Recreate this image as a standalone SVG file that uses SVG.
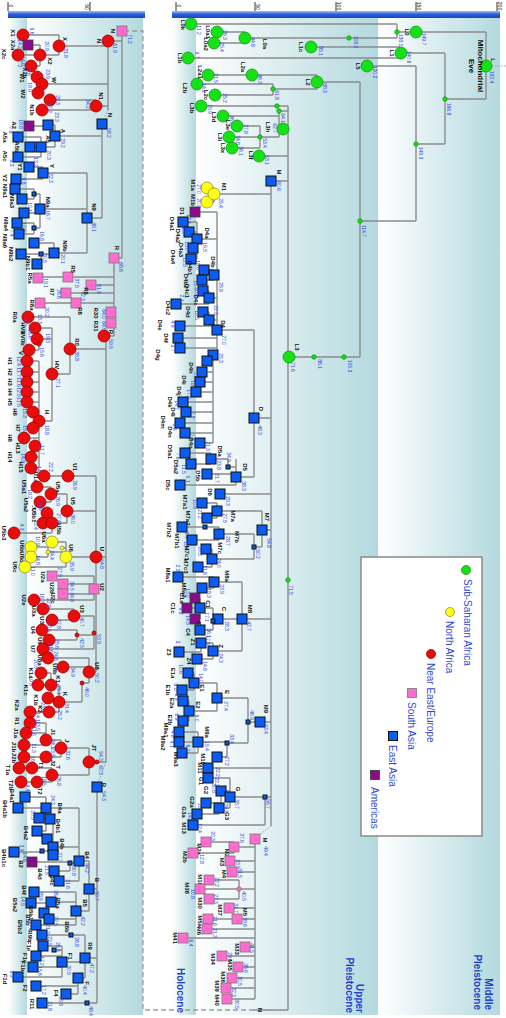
<svg xmlns="http://www.w3.org/2000/svg" width="506" height="1018" viewBox="0 0 506 1018">
<defs>
<linearGradient id="bg" x1="0" y1="0" x2="1" y2="0"><stop offset="0" stop-color="#ffffff"/><stop offset="1" stop-color="#b3d9de"/></linearGradient>
<linearGradient id="ax" x1="0" y1="0" x2="0" y2="1"><stop offset="0" stop-color="#a3c1f5"/><stop offset=".45" stop-color="#2b5fdc"/><stop offset="1" stop-color="#1a47b8"/></linearGradient>
<rect id="s" x="-5" y="-5" width="10" height="10"/>
<rect id="t" x="-2" y="-2" width="4" height="4"/>
</defs>
<style>
.e{fill:none;stroke:#8c8c8c;stroke-width:1.4}
.d{fill:none;stroke:#9a9a9a;stroke-width:1.3;stroke-dasharray:5 3}
.o{fill:none;stroke:#9a9a9a;stroke-width:1;stroke-dasharray:1.5 1.5}
.G{fill:#16e016;stroke:#0f9a0f;stroke-width:.8}
.Y{fill:#ffff14;stroke:#8f8f2a;stroke-width:.8}
.R{fill:#ea0b0b;stroke:#9e0000;stroke-width:.8}
.P{fill:#ff6ccd;stroke:#7a7a7a;stroke-width:.8}
.B{fill:#0b5cf2;stroke:#101010;stroke-width:1}
.U{fill:#8a0a8c;stroke:#3a3a3a;stroke-width:.8}
text{font-family:"Liberation Sans",Arial,sans-serif;dominant-baseline:central;text-anchor:middle}
.l{font-size:6px;font-weight:bold;fill:#111}
.v{font-size:5px;fill:#2e44e0}
.k{font-size:5px;fill:#000}
.g{font-size:10px;fill:#3048d0;text-anchor:start}
.h{font-size:10px;font-weight:bold;fill:#2040d0;text-anchor:end}
.m{font-size:8px;font-weight:bold;fill:#111}
</style>
<rect width="506" height="1018" fill="#fff"/>
<g id="bands">
<rect x="8" y="18" width="19" height="997" fill="url(#bg)"/>
<rect x="27" y="18" width="116" height="997" fill="url(#bg)"/>
<rect x="172" y="18" width="24" height="997" fill="url(#bg)"/>
<rect x="196" y="18" width="182" height="997" fill="url(#bg)"/>
<rect x="378" y="18" width="122" height="997" fill="url(#bg)"/>
</g>
<g id="axis">
<rect x="8" y="11" width="137" height="7" fill="url(#ax)"/>
<rect x="172" y="11" width="328" height="7" fill="url(#ax)"/>
<path d="M8,2V11M90,2V11M176,2V11M255,2V11M336,2V11M416,2V11M497,2V11" stroke="#000" stroke-width=".8"/>
<text class="k" transform="translate(11,6)rotate(90)">0</text>
<text class="k" transform="translate(87,7)rotate(90)">50</text>
<text class="k" transform="translate(179,6)rotate(90)">0</text>
<text class="k" transform="translate(258,7)rotate(90)">50</text>
<text class="k" transform="translate(339,6)rotate(90)">100</text>
<text class="k" transform="translate(419,6)rotate(90)">150</text>
<text class="k" transform="translate(500,6)rotate(90)">200</text>
</g>
<g id="eras">
<text class="h" transform="translate(180,1013)rotate(90)">Holocene</text>
<text class="h" transform="translate(359,1013)rotate(90)">Upper</text>
<text class="h" transform="translate(349,1013)rotate(90)">Pleistocene</text>
<text class="h" transform="translate(488,1010)rotate(90)">Middle</text>
<text class="h" transform="translate(477,1010)rotate(90)">Pleistocene</text>
</g>
<g id="connectors">
<path class="d" d="M124,31H143V1010H253"/>
<path class="e" d="M253,1010H288"/>
<path class="o" d="M108,110L103,120M106,762L98,783M271,826L258,836M492,66H506"/>
<path class="e" d="M122,31V258M108,41H122M114,258H122M108,41V110M59,46H108M42,84H108M96,106H108M59,35V55M23,35H59M40,55H59M40,45V66M28,45H40M18,55H40M31,66H40M42,77V93M37,77H42M38,93H42M96,100V110M50,100H96M42,110H96M102,124V218M55,136H102M87,218H102M55,125V147M48,125H55M41,147H55M29,126H48M41,137V157M18,137H41M30,147H41M18,157H41M87,173V253M43,173H87M40,209H87M54,253H87M43,167V179M29,167H43M16,179H43M40,194V228M34,189V199M15,189H34M22,199H34M34,194H40M24,213H40M34,223V234M17,223H34M19,234H34M34,228H40M54,243V254M34,243H54M21,254H54M41,254V264M37,264H41"/>
<path class="e" d="M114,258V336M68,277H114M38,277H68M91,285H114M66,293H114M76,303H114M40,303H76M111,312H114M111,323H114M104,336H114M106,336V762M70,349H106M96,557H106M89,762H106M70,317V374M28,317H70M52,374H70M52,328V421M35,328H52M37,339H52M39,421H52M39,339V350M29,350H39M39,361V468M27,361H39M27,372H39M27,382H39M27,392H39M27,402H39M33,412H39M33,428H39M24,438H39M35,446H39M31,457H39M31,468H39"/>
<path class="e" d="M96,476V672M68,476H96M67,511H96M66,557H96M89,672H96M94,589H96M94,633H96M44,476H68M67,494V523M51,494H67M52,523H67M51,487V502M37,487H51M40,502H51M52,513V533M47,513H52M43,523H52M14,533H52M66,542V567M52,542H66M62,548H66M48,552H66M25,567H66M48,547V557M31,547H48M31,557H48M94,576V600M52,576H94M63,584H94M63,594H94M34,600H94M94,616V649M74,616H94M77,635H94M43,649H94M74,609V620M43,609H74M52,620H74M77,630V640M42,630H77M49,640H77M89,658V683M48,658H89M63,667H89M82,683H89M82,683V702M59,702H82M59,685V712M51,685H59M49,712H59M51,673V698M41,673H51M38,685H51M48,698H51M30,712H49M89,748V775M61,748H89M52,775H89M61,740V757M46,740H61M46,757H61M46,723V745M30,723H46M26,733H46M24,745H46M24,757H46M52,768V782M32,768H52M37,782H52M19,768H32M21,782H37"/>
<path class="e" d="M97,787V1003M89,889H97M85,958H97M87,1003H97M89,861V911M79,861H89M76,911H89M79,808V881M46,808H79M53,847H79M70,863H79M59,881H79M46,797V831M25,797H46M18,808H46M39,818H46M37,831H46M53,819V855M50,819H53M47,839H53M42,851H53M14,852H42M70,863V871M32,862H70M54,871H70M76,892V925M34,892H76M51,902H76M49,919H76M36,925H76M31,903H51M49,913V919M44,913H49M85,935V978M71,935H85M62,962H85M78,978H85M42,935H71M62,946V977M43,946H62M54,950H62M36,956H62M33,967H62M18,977H62M78,978V994M36,986H78M66,994H78M42,1003H87"/>
<path class="e" d="M486,32V99M416,32H486M445,99H486M445,53V144M400,53H445M416,144H445M400,47V58M311,47H400M188,58H400M416,66V221M367,66H416M360,221H416M360,82V357M317,82H360M289,357H360M397,24V38M191,24H397M245,38H397M397,32H416M245,32V43M217,32H245M214,43H245M317,75V89M252,75H317M273,89H317M208,75H252M273,84V95M197,84H273M215,95H273M288,106V1010M201,106H288M279,111H288M283,129H288M259,156H288M271,181H288M279,111V137M223,116H279M260,137H279M260,126V148M237,126H260M229,137H260M232,148H260"/>
<path class="e" d="M271,181V826M215,194H271M254,418H271M220,494H271M262,530H271M242,619H271M260,722H271M208,768H271M265,797H271M214,188V202M207,188H214M207,202H214M217,212V355M195,212H217M197,239H217M214,275H217M209,298H217M209,320H217M180,326H217M178,338H217M180,348H217M213,355H217M213,355V443M207,361H213M202,372H213M200,382H213M196,392H213M183,402H213M186,412H213M180,423H213M185,433H213M200,443H213M197,222V259M183,222H197M189,232H197M193,248H197M191,259H197M214,270V280M204,270H214M202,280H214M209,291V304M203,291H209M176,304H209M209,312V320M203,312H209M254,330V477M217,330H254M236,477H254M236,459V485M228,467H236M207,474H236M180,485H236M228,459V467M211,459H228M211,453V464M185,453H211M191,464H211"/>
<path class="e" d="M262,511V547M217,511H262M254,547H262M254,534V559M219,534H254M212,559H254M217,503V518M202,503H217M207,518H217M219,527V540M205,527H219M192,540H219M182,527H205M212,549V567M206,549H212M198,567H212M242,582V651M214,582H242M218,619H242M213,651H242M214,577V588M178,577H214M202,588H214M213,608V630M213,621H218M200,608H213M200,630H213M200,598V619M195,598H200M187,608H200M195,619H200M213,643V659M201,643H213M197,659H213M201,643V652M179,652H201M248,698V743M217,698H248M227,743H248M248,722H260M217,683V711M194,683H217M189,711H217M194,673V690M188,673H194M182,690H194M189,701V721M183,701H189M183,721H189M227,742V757M198,742H227M217,757H227M198,732V753M179,732H198M179,742H198M182,753H198M265,797V825M230,797H265M193,825H265M230,778V808M208,778H230M221,791H230M219,808H230M221,791V803M206,803H221M219,808V814M197,814H219M255,839V999M234,847H255M230,861H255M232,872H255M239,889H255M229,908H255M237,919H255M207,929H255M183,938H255M245,947H255M222,956H255M238,967H255M232,978H255M226,988H255M227,999H255M234,842V853M206,842H234M193,853H234M239,880V899M209,880H239M200,889H239M209,899H239M208,919H237"/>
</g>
<g id="nodes-left">
<g id="N_p"><use href="#s" class="P" x="122" y="31"/><text class="l" transform="translate(113,31)rotate(90)">N</text><text class="v" transform="translate(130,39)rotate(90)">71.2</text></g>
<g id="N_r"><circle class="R" cx="108" cy="41" r="6"/><text class="l" transform="translate(99,41)rotate(90)">N</text><text class="v" transform="translate(115,48)rotate(90)">61.9</text></g>
<g id="X1"><circle class="R" cx="23" cy="35" r="6"/><text class="l" transform="translate(13,33)rotate(90)">X1</text><text class="v" transform="translate(32,31)rotate(90)">9.6</text></g>
<g id="X2a"><use href="#s" class="U" x="28" y="45"/><text class="l" transform="translate(13,45)rotate(90)">X2a</text><text class="v" transform="translate(20,44)rotate(90)">14.2</text></g>
<g id="X2c"><circle class="R" cx="18" cy="55" r="6"/><text class="l" transform="translate(4,54)rotate(90)">X2c</text><text class="v" transform="translate(20,64)rotate(90)">7.2</text></g>
<g id="X2"><circle class="R" cx="40" cy="55" r="6"/><text class="l" transform="translate(50,61)rotate(90)">X2</text><text class="v" transform="translate(47,46)rotate(90)">20.9</text></g>
<g id="X2b"><circle class="R" cx="31" cy="66" r="6"/><text class="l" transform="translate(25,73)rotate(90)">X2b</text><text class="v" transform="translate(23,61)rotate(90)">14.6</text></g>
<g id="X"><circle class="R" cx="59" cy="46" r="6"/><text class="l" transform="translate(65,39)rotate(90)">X</text><text class="v" transform="translate(66,53)rotate(90)">31.8</text></g>
<g id="W1"><circle class="R" cx="37" cy="77" r="6"/><text class="l" transform="translate(22,78)rotate(90)">W1</text><text class="v" transform="translate(29,71)rotate(90)">17.6</text></g>
<g id="W"><circle class="R" cx="42" cy="84" r="6"/><text class="l" transform="translate(54,80)rotate(90)">W</text><text class="v" transform="translate(48,74)rotate(90)">23.9</text></g>
<g id="W2"><circle class="R" cx="38" cy="93" r="6"/><text class="l" transform="translate(23,94)rotate(90)">W2</text><text class="v" transform="translate(30,87)rotate(90)">18.9</text></g>
<g id="n1"><circle class="R" cx="50" cy="100" r="6"/><text class="v" transform="translate(58,100)rotate(90)">28.3</text></g>
<g id="N1b"><circle class="R" cx="42" cy="110" r="6"/><text class="l" transform="translate(32,110)rotate(90)">N1b</text><text class="v" transform="translate(50,108)rotate(90)">17.2</text></g>
<g id="N1"><circle class="R" cx="96" cy="106" r="6"/><text class="l" transform="translate(101,96)rotate(90)">N1</text><text class="v" transform="translate(88,104)rotate(90)">34.2</text></g>
<g id="N_b"><use href="#s" class="B" x="102" y="124"/><text class="l" transform="translate(110,115)rotate(90)">N</text><text class="v" transform="translate(109,133)rotate(90)">58.2</text></g>
<g id="A2"><use href="#s" class="U" x="29" y="126"/><text class="l" transform="translate(14,125)rotate(90)">A2</text><text class="v" transform="translate(21,124)rotate(90)">18.8</text></g>
<g id="n2"><use href="#s" class="B" x="48" y="125"/><text class="v" transform="translate(57,117)rotate(90)">23.3</text></g>
<g id="A"><use href="#s" class="B" x="55" y="136"/><text class="l" transform="translate(63,131)rotate(90)">A</text><text class="v" transform="translate(63,143)rotate(90)">29.2</text></g>
<g id="A5"><use href="#s" class="B" x="41" y="147"/><text class="l" transform="translate(48,139)rotate(90)">A5</text><text class="v" transform="translate(49,155)rotate(90)">20.3</text></g>
<g id="A5b"><use href="#s" class="B" x="30" y="147"/><text class="l" transform="translate(17,147)rotate(90)">A5b</text></g>
<g id="A5a"><use href="#s" class="B" x="18" y="137"/><text class="l" transform="translate(5,137)rotate(90)">A5a</text><text class="v" transform="translate(11,130)rotate(90)">7.8</text></g>
<g id="A5c"><use href="#s" class="B" x="18" y="157"/><text class="l" transform="translate(5,156)rotate(90)">A5c</text><text class="v" transform="translate(12,163)rotate(90)">8.3</text></g>
<g id="Y1"><use href="#s" class="B" x="29" y="167"/><text class="l" transform="translate(20,167)rotate(90)">Y1</text><text class="v" transform="translate(36,162)rotate(90)">13.2</text></g>
<g id="Y"><use href="#s" class="B" x="43" y="173"/><text class="l" transform="translate(52,166)rotate(90)">Y</text><text class="v" transform="translate(51,178)rotate(90)">22.3</text></g>
<g id="Y2"><use href="#s" class="B" x="16" y="179"/><text class="l" transform="translate(5,178)rotate(90)">Y2</text><text class="v" transform="translate(24,181)rotate(90)">9.5</text></g>
<g id="N9a1"><use href="#s" class="B" x="15" y="189"/><text class="l" transform="translate(5,191)rotate(90)">N9a1</text></g>
<g id="N9a3"><use href="#s" class="B" x="22" y="199"/><text class="l" transform="translate(12,201)rotate(90)">N9a3</text></g>
<g id="N9a"><use href="#s" class="B" x="40" y="209"/><text class="l" transform="translate(48,202)rotate(90)">N9a</text><text class="v" transform="translate(48,215)rotate(90)">16.7</text></g>
<g id="N9a2"><use href="#s" class="B" x="24" y="213"/><text class="v" transform="translate(30,207)rotate(90)">10.1</text></g>
<g id="N9a4"><use href="#s" class="B" x="17" y="223"/><text class="l" transform="translate(6,224)rotate(90)">N9a4</text><text class="v" transform="translate(24,227)rotate(90)">10.0</text></g>
<g id="N9a6"><use href="#s" class="B" x="19" y="234"/><text class="l" transform="translate(5,241)rotate(90)">N9a6</text><text class="v" transform="translate(12,233)rotate(90)">7.4</text></g>
<g id="j1"><use href="#t" class="B" x="34" y="194"/></g>
<g id="j2"><use href="#t" class="B" x="34" y="228"/></g>
<g id="N9"><use href="#s" class="B" x="87" y="218"/><text class="l" transform="translate(94,207)rotate(90)">N9</text><text class="v" transform="translate(94,227)rotate(90)">48.1</text></g>
<g id="n3"><use href="#s" class="B" x="34" y="243"/><text class="v" transform="translate(42,236)rotate(90)">16.8</text></g>
<g id="N9b2"><use href="#s" class="B" x="21" y="254"/><text class="l" transform="translate(11,254)rotate(90)">N9b2</text></g>
<g id="j3"><use href="#t" class="B" x="41" y="254"/></g>
<g id="N9b1"><use href="#s" class="B" x="37" y="264"/><text class="l" transform="translate(28,263)rotate(90)">N9b1</text><text class="v" transform="translate(45,258)rotate(90)">20.5</text></g>
<g id="N9b"><use href="#s" class="B" x="54" y="253"/><text class="l" transform="translate(65,246)rotate(90)">N9b</text><text class="v" transform="translate(63,259)rotate(90)">20.1</text></g>
<g id="R_p"><use href="#s" class="P" x="114" y="258"/><text class="l" transform="translate(117,248)rotate(90)">R</text><text class="v" transform="translate(121,267)rotate(90)">68.6</text></g>
<g id="R5a"><use href="#s" class="P" x="38" y="278"/><text class="l" transform="translate(30,278)rotate(90)">R5a</text><text class="v" transform="translate(46,283)rotate(90)">19.1</text></g>
<g id="R5"><use href="#s" class="P" x="68" y="277"/><text class="l" transform="translate(73,269)rotate(90)">R5</text><text class="v" transform="translate(77,283)rotate(90)">37.5</text></g>
<g id="R6"><use href="#s" class="P" x="91" y="285"/><text class="l" transform="translate(86,291)rotate(90)">R6</text><text class="v" transform="translate(99,289)rotate(90)">51.9</text></g>
<g id="R7"><use href="#s" class="P" x="66" y="293"/><text class="l" transform="translate(52,292)rotate(90)">R7</text><text class="v" transform="translate(59,294)rotate(90)">26.6</text></g>
<g id="R8a"><use href="#s" class="P" x="40" y="303"/><text class="l" transform="translate(32,305)rotate(90)">R8a</text><text class="v" transform="translate(47,312)rotate(90)">20.2</text></g>
<g id="R8"><use href="#s" class="P" x="76" y="303"/><text class="l" transform="translate(80,311)rotate(90)">R8</text><text class="v" transform="translate(83,296)rotate(90)">42.3</text></g>
<g id="R30"><use href="#s" class="P" x="111" y="312"/><text class="l" transform="translate(96,313)rotate(90)">R30</text><text class="v" transform="translate(104,314)rotate(90)">64.0</text></g>
<g id="R31"><use href="#s" class="P" x="111" y="323"/><text class="l" transform="translate(96,326)rotate(90)">R31</text><text class="v" transform="translate(104,326)rotate(90)">64.5</text></g>
<g id="R_r"><circle class="R" cx="104" cy="336" r="6"/><text class="l" transform="translate(111,332)rotate(90)">R</text><text class="v" transform="translate(111,344)rotate(90)">59.5</text></g>
<g id="R0"><circle class="R" cx="70" cy="349" r="6"/><text class="l" transform="translate(77,342)rotate(90)">R0</text><text class="v" transform="translate(77,356)rotate(90)">38.8</text></g>
<g id="R0a"><circle class="R" cx="28" cy="317" r="6"/><text class="l" transform="translate(15,317)rotate(90)">R0a</text><text class="v" transform="translate(40,319)rotate(90)">13.3</text></g>
<g id="HV1"><circle class="R" cx="35" cy="328" r="6"/><text class="l" transform="translate(23,328)rotate(90)">HV1</text><text class="v" transform="translate(28,321)rotate(90)">17.0</text></g>
<g id="HV0b"><circle class="R" cx="37" cy="339" r="6"/><text class="l" transform="translate(23,338)rotate(90)">HV0b</text><text class="v" transform="translate(30,334)rotate(90)">16.6</text></g>
<g id="j4"><circle class="R" cx="39" cy="344" r="2"/><text class="v" transform="translate(48,338)rotate(90)">19.3</text></g>
<g id="V"><circle class="R" cx="29" cy="350" r="6"/><text class="l" transform="translate(21,353)rotate(90)">V</text><text class="v" transform="translate(42,352)rotate(90)">15.6</text></g>
<g id="HV"><circle class="R" cx="52" cy="374" r="6"/><text class="l" transform="translate(57,365)rotate(90)">HV</text><text class="v" transform="translate(58,383)rotate(90)">27.1</text></g>
<g id="H1"><circle class="R" cx="27" cy="361" r="6"/><text class="l" transform="translate(10,361)rotate(90)">H1</text><text class="v" transform="translate(19,361)rotate(90)">12.4</text></g>
<g id="H2"><circle class="R" cx="27" cy="372" r="6"/><text class="l" transform="translate(10,372)rotate(90)">H2</text><text class="v" transform="translate(19,372)rotate(90)">11.7</text></g>
<g id="H3"><circle class="R" cx="27" cy="382" r="6"/><text class="l" transform="translate(10,382)rotate(90)">H3</text><text class="v" transform="translate(19,382)rotate(90)">11.6</text></g>
<g id="H4"><circle class="R" cx="27" cy="392" r="6"/><text class="l" transform="translate(10,392)rotate(90)">H4</text><text class="v" transform="translate(19,392)rotate(90)">12.5</text></g>
<g id="H5"><circle class="R" cx="27" cy="402" r="6"/><text class="l" transform="translate(10,402)rotate(90)">H5</text><text class="v" transform="translate(19,402)rotate(90)">11.5</text></g>
<g id="H6"><circle class="R" cx="33" cy="412" r="6"/><text class="l" transform="translate(15,412)rotate(90)">H6</text><text class="v" transform="translate(25,413)rotate(90)">15.3</text></g>
<g id="H"><circle class="R" cx="39" cy="421" r="6"/><text class="l" transform="translate(47,412)rotate(90)">H</text><text class="v" transform="translate(47,430)rotate(90)">18.8</text></g>
<g id="H7"><circle class="R" cx="33" cy="428" r="6"/><text class="l" transform="translate(18,428)rotate(90)">H7</text><text class="v" transform="translate(25,430)rotate(90)">15.6</text></g>
<g id="H8"><circle class="R" cx="24" cy="438" r="6"/><text class="l" transform="translate(10,438)rotate(90)">H8</text></g>
<g id="H13"><circle class="R" cx="35" cy="446" r="6"/><text class="l" transform="translate(18,448)rotate(90)">H13</text><text class="v" transform="translate(42,450)rotate(90)">11.7</text></g>
<g id="H14"><circle class="R" cx="31" cy="457" r="6"/><text class="l" transform="translate(10,457)rotate(90)">H14</text><text class="v" transform="translate(23,458)rotate(90)">14.9</text></g>
<g id="H15"><circle class="R" cx="31" cy="468" r="6"/><text class="l" transform="translate(21,467)rotate(90)">H15</text><text class="v" transform="translate(39,471)rotate(90)">14.0</text></g>
<g id="U1a"><circle class="R" cx="44" cy="476" r="6"/><text class="l" transform="translate(36,477)rotate(90)">U1a</text><text class="v" transform="translate(51,467)rotate(90)">22.2</text></g>
<g id="U1"><circle class="R" cx="68" cy="476" r="6"/><text class="l" transform="translate(75,467)rotate(90)">U1</text><text class="v" transform="translate(75,485)rotate(90)">26.9</text></g>
<g id="U5a1"><circle class="R" cx="37" cy="487" r="6"/><text class="l" transform="translate(24,487)rotate(90)">U5a1</text><text class="v" transform="translate(30,494)rotate(90)">18.2</text></g>
<g id="U5a"><circle class="R" cx="51" cy="494" r="6"/><text class="l" transform="translate(58,487)rotate(90)">U5a</text><text class="v" transform="translate(58,501)rotate(90)">26.9</text></g>
<g id="U5a2"><circle class="R" cx="40" cy="502" r="6"/><text class="l" transform="translate(26,505)rotate(90)">U5a2</text><text class="v" transform="translate(34,510)rotate(90)">21.0</text></g>
<g id="U5"><circle class="R" cx="67" cy="511" r="6"/><text class="l" transform="translate(73,501)rotate(90)">U5</text><text class="v" transform="translate(73,519)rotate(90)">36.0</text></g>
<g id="U5b1"><circle class="R" cx="47" cy="513" r="6"/><text class="l" transform="translate(34,515)rotate(90)">U5b1</text><text class="v" transform="translate(41,506)rotate(90)">24.9</text></g>
<g id="U5b2"><circle class="R" cx="43" cy="523" r="6"/><text class="v" transform="translate(36,525)rotate(90)">12.4</text></g>
<g id="U5b"><circle class="R" cx="52" cy="523" r="6"/><text class="l" transform="translate(59,529)rotate(90)">U5b</text><text class="v" transform="translate(59,518)rotate(90)">27.4</text></g>
<g id="U5b3"><circle class="R" cx="14" cy="533" r="6"/><text class="l" transform="translate(4,533)rotate(90)">U5b3</text><text class="v" transform="translate(22,527)rotate(90)">4.3</text></g>
<g id="U6a"><circle class="Y" cx="52" cy="542" r="6"/><text class="l" transform="translate(44,537)rotate(90)">U6a</text></g>
<g id="j5"><circle class="Y" cx="62" cy="548" r="2"/></g>
<g id="j6"><circle class="Y" cx="48" cy="552" r="2"/><text class="v" transform="translate(52,555)rotate(90)">24.4</text></g>
<g id="U6b"><circle class="Y" cx="31" cy="547" r="6"/><text class="l" transform="translate(22,546)rotate(90)">U6b</text><text class="v" transform="translate(38,541)rotate(90)">10.9</text></g>
<g id="U6d"><circle class="Y" cx="31" cy="557" r="6"/><text class="l" transform="translate(22,557)rotate(90)">U6d</text><text class="v" transform="translate(38,560)rotate(90)">14.8</text></g>
<g id="U6"><circle class="Y" cx="66" cy="557" r="6"/><text class="l" transform="translate(71,548)rotate(90)">U6</text><text class="v" transform="translate(72,566)rotate(90)">35.9</text></g>
<g id="U6c"><circle class="Y" cx="25" cy="567" r="6"/><text class="l" transform="translate(15,567)rotate(90)">U6c</text><text class="v" transform="translate(33,571)rotate(90)">11.0</text></g>
<g id="U"><circle class="R" cx="96" cy="557" r="6"/><text class="l" transform="translate(102,549)rotate(90)">U</text><text class="v" transform="translate(102,564)rotate(90)">54.8</text></g>
<g id="U2a"><use href="#s" class="P" x="52" y="576"/><text class="l" transform="translate(43,577)rotate(90)">U2a</text><text class="v" transform="translate(60,572)rotate(90)">27.5</text></g>
<g id="U2b"><use href="#s" class="P" x="63" y="584"/><text class="l" transform="translate(52,588)rotate(90)">U2b</text><text class="v" transform="translate(72,586)rotate(90)">34.5</text></g>
<g id="U2c"><use href="#s" class="P" x="63" y="594"/><text class="l" transform="translate(53,598)rotate(90)">U2c</text><text class="v" transform="translate(72,597)rotate(90)">34.8</text></g>
<g id="U2"><use href="#s" class="P" x="94" y="589"/><text class="l" transform="translate(102,587)rotate(90)">U2</text></g>
<g id="U2e"><circle class="R" cx="34" cy="600" r="6"/><text class="l" transform="translate(24,600)rotate(90)">U2e</text><text class="v" transform="translate(42,598)rotate(90)">16.7</text></g>
<g id="U3a"><circle class="R" cx="43" cy="609" r="6"/><text class="l" transform="translate(34,611)rotate(90)">U3a</text><text class="v" transform="translate(49,603)rotate(90)">22.8</text></g>
<g id="U3b"><circle class="R" cx="52" cy="620" r="6"/><text class="l" transform="translate(42,622)rotate(90)">U3b</text><text class="v" transform="translate(59,624)rotate(90)">27.8</text></g>
<g id="U3"><circle class="R" cx="74" cy="616" r="6"/><text class="l" transform="translate(82,609)rotate(90)">U3</text><text class="v" transform="translate(82,622)rotate(90)">40.7</text></g>
<g id="U4"><circle class="R" cx="42" cy="630" r="6"/><text class="l" transform="translate(33,630)rotate(90)">U4</text><text class="v" transform="translate(49,627)rotate(90)">20.5</text></g>
<g id="U9"><circle class="R" cx="49" cy="640" r="6"/><text class="l" transform="translate(40,641)rotate(90)">U9</text><text class="v" transform="translate(57,644)rotate(90)">25.6</text></g>
<g id="j7"><circle class="R" cx="77" cy="635" r="2"/><text class="v" transform="translate(82,643)rotate(90)">42.5</text></g>
<g id="j8"><circle class="R" cx="94" cy="633" r="2"/><text class="v" transform="translate(99,639)rotate(90)">53.9</text></g>
<g id="U7"><circle class="R" cx="43" cy="649" r="6"/><text class="l" transform="translate(33,649)rotate(90)">U7</text><text class="v" transform="translate(51,648)rotate(90)">21.6</text></g>
<g id="U8a"><circle class="R" cx="48" cy="658" r="6"/><text class="l" transform="translate(40,660)rotate(90)">U8a</text><text class="v" transform="translate(56,656)rotate(90)">24.6</text></g>
<g id="U8b"><circle class="R" cx="63" cy="667" r="6"/><text class="l" transform="translate(55,669)rotate(90)">U8b</text><text class="v" transform="translate(73,672)rotate(90)">34.9</text></g>
<g id="U8"><circle class="R" cx="89" cy="672" r="6"/><text class="l" transform="translate(97,666)rotate(90)">U8</text><text class="v" transform="translate(97,678)rotate(90)">50.2</text></g>
<g id="j9"><circle class="R" cx="82" cy="683" r="2"/><text class="v" transform="translate(87,692)rotate(90)">46.0</text></g>
<g id="K1a"><circle class="R" cx="41" cy="673" r="6"/><text class="l" transform="translate(31,673)rotate(90)">K1a</text><text class="v" transform="translate(36,664)rotate(90)">20.5</text></g>
<g id="K1c"><circle class="R" cx="38" cy="685" r="6"/><text class="l" transform="translate(26,690)rotate(90)">K1c</text><text class="v" transform="translate(31,681)rotate(90)">19.5</text></g>
<g id="K1"><circle class="R" cx="51" cy="685" r="6"/><text class="l" transform="translate(58,679)rotate(90)">K1</text><text class="v" transform="translate(59,690)rotate(90)">25.1</text></g>
<g id="K1b"><circle class="R" cx="48" cy="698" r="6"/><text class="l" transform="translate(36,700)rotate(90)">K1b</text><text class="v" transform="translate(43,707)rotate(90)">23.0</text></g>
<g id="K"><circle class="R" cx="59" cy="702" r="6"/><text class="l" transform="translate(65,694)rotate(90)">K</text><text class="v" transform="translate(67,708)rotate(90)">31.4</text></g>
<g id="K2"><circle class="R" cx="49" cy="712" r="6"/><text class="l" transform="translate(40,709)rotate(90)">K2</text><text class="v" transform="translate(60,715)rotate(90)">25.2</text></g>
<g id="K2a"><circle class="R" cx="30" cy="712" r="6"/><text class="l" transform="translate(17,705)rotate(90)">K2a</text><text class="v" transform="translate(38,717)rotate(90)">14.1</text></g>
<g id="R1"><circle class="R" cx="30" cy="723" r="6"/><text class="l" transform="translate(17,721)rotate(90)">R1</text><text class="v" transform="translate(38,726)rotate(90)">13.5</text></g>
<g id="J1a"><circle class="R" cx="26" cy="733" r="6"/><text class="l" transform="translate(16,733)rotate(90)">J1a</text><text class="v" transform="translate(34,731)rotate(90)">11.5</text></g>
<g id="J1"><circle class="R" cx="46" cy="740" r="6"/><text class="l" transform="translate(53,732)rotate(90)">J1</text><text class="v" transform="translate(53,744)rotate(90)">24.1</text></g>
<g id="J1b"><circle class="R" cx="24" cy="745" r="6"/><text class="l" transform="translate(14,747)rotate(90)">J1b</text><text class="v" transform="translate(34,748)rotate(90)">11.3</text></g>
<g id="J"><circle class="R" cx="61" cy="748" r="6"/><text class="l" transform="translate(67,741)rotate(90)">J</text><text class="v" transform="translate(68,755)rotate(90)">32.6</text></g>
<g id="J2b"><circle class="R" cx="24" cy="757" r="6"/><text class="l" transform="translate(14,758)rotate(90)">J2b</text><text class="v" transform="translate(33,761)rotate(90)">16.5</text></g>
<g id="J2"><circle class="R" cx="46" cy="757" r="6"/><text class="l" transform="translate(53,763)rotate(90)">J2</text><text class="v" transform="translate(53,752)rotate(90)">23.5</text></g>
<g id="JT"><circle class="R" cx="89" cy="762" r="6"/><text class="l" transform="translate(94,748)rotate(90)">JT</text><text class="v" transform="translate(101,756)rotate(90)">54.3</text></g>
<g id="j10"><circle class="R" cx="97" cy="762" r="2"/><text class="v" transform="translate(101,770)rotate(90)">60.3</text></g>
<g id="T1a"><circle class="R" cx="19" cy="768" r="6"/><text class="l" transform="translate(8,770)rotate(90)">T1a</text></g>
<g id="T1"><circle class="R" cx="32" cy="768" r="6"/><text class="l" transform="translate(41,765)rotate(90)">T1</text></g>
<g id="T"><circle class="R" cx="52" cy="775" r="6"/><text class="l" transform="translate(58,767)rotate(90)">T</text><text class="v" transform="translate(59,781)rotate(90)">26.8</text></g>
<g id="T2b"><circle class="R" cx="21" cy="782" r="6"/><text class="l" transform="translate(11,785)rotate(90)">T2b</text><text class="v" transform="translate(28,788)rotate(90)">9.4</text></g>
<g id="T2"><circle class="R" cx="37" cy="782" r="6"/><text class="l" transform="translate(40,791)rotate(90)">T2</text><text class="v" transform="translate(44,781)rotate(90)">18.5</text></g>
<g id="R_b"><use href="#s" class="B" x="97" y="787"/><text class="l" transform="translate(104,785)rotate(90)">R</text><text class="v" transform="translate(104,796)rotate(90)">54.3</text></g>
<g id="B4a1"><use href="#s" class="B" x="25" y="797"/><text class="l" transform="translate(12,796)rotate(90)">B4a1</text></g>
<g id="B4a1b"><use href="#s" class="B" x="18" y="808"/><text class="l" transform="translate(5,809)rotate(90)">B4a1b</text></g>
<g id="B4a"><use href="#s" class="B" x="46" y="808"/><text class="l" transform="translate(60,808)rotate(90)">B4a</text><text class="v" transform="translate(53,800)rotate(90)">24.3</text></g>
<g id="B4a1a"><use href="#s" class="B" x="39" y="818"/><text class="v" transform="translate(33,815)rotate(90)">20.5</text></g>
<g id="B4b1"><use href="#s" class="B" x="50" y="819"/><text class="l" transform="translate(58,826)rotate(90)">B4b1</text></g>
<g id="B4a2"><use href="#s" class="B" x="37" y="831"/><text class="l" transform="translate(26,833)rotate(90)">B4a2</text></g>
<g id="n4"><use href="#s" class="B" x="47" y="839"/></g>
<g id="j11"><use href="#t" class="B" x="42" y="851"/></g>
<g id="B4b"><use href="#s" class="B" x="53" y="847"/><text class="l" transform="translate(62,844)rotate(90)">B4b</text></g>
<g id="n5"><use href="#s" class="B" x="53" y="855"/><text class="v" transform="translate(60,857)rotate(90)">27.7</text></g>
<g id="B4b1c"><use href="#s" class="B" x="14" y="852"/><text class="l" transform="translate(4,858)rotate(90)">B4b1c</text><text class="v" transform="translate(22,848)rotate(90)">3.9</text></g>
<g id="B2"><use href="#s" class="U" x="32" y="862"/><text class="l" transform="translate(21,864)rotate(90)">B2</text><text class="v" transform="translate(25,857)rotate(90)">14.6</text></g>
<g id="B4"><use href="#s" class="B" x="79" y="861"/><text class="l" transform="translate(87,855)rotate(90)">B4</text><text class="v" transform="translate(87,868)rotate(90)">44.2</text></g>
<g id="j12"><use href="#t" class="B" x="70" y="863"/><text class="v" transform="translate(74,871)rotate(90)">30.8</text></g>
<g id="B4d"><use href="#s" class="B" x="54" y="871"/><text class="l" transform="translate(40,874)rotate(90)">B4d</text><text class="v" transform="translate(47,870)rotate(90)">21.5</text></g>
<g id="B4c"><use href="#s" class="B" x="59" y="881"/><text class="l" transform="translate(52,880)rotate(90)">B4c</text><text class="v" transform="translate(68,884)rotate(90)">31.6</text></g>
<g id="B"><use href="#s" class="B" x="89" y="889"/><text class="l" transform="translate(97,880)rotate(90)">B</text><text class="v" transform="translate(97,896)rotate(90)">50.7</text></g>
<g id="B4f"><use href="#s" class="B" x="34" y="892"/><text class="l" transform="translate(24,890)rotate(90)">B4f</text><text class="v" transform="translate(41,896)rotate(90)">28.6</text></g>
<g id="B5a2"><use href="#s" class="B" x="31" y="903"/><text class="l" transform="translate(15,905)rotate(90)">B5a2</text><text class="v" transform="translate(23,901)rotate(90)">14.5</text></g>
<g id="B5a"><use href="#s" class="B" x="51" y="902"/><text class="l" transform="translate(58,903)rotate(90)">B5a</text><text class="v" transform="translate(56,895)rotate(90)">26.9</text></g>
<g id="B5b1"><use href="#s" class="B" x="44" y="913"/><text class="l" transform="translate(31,913)rotate(90)">B5b1</text></g>
<g id="B5b"><use href="#s" class="B" x="49" y="919"/><text class="l" transform="translate(28,920)rotate(90)">B5b</text><text class="v" transform="translate(56,921)rotate(90)">22.5</text></g>
<g id="B5"><use href="#s" class="B" x="76" y="911"/><text class="l" transform="translate(85,903)rotate(90)">B5</text><text class="v" transform="translate(83,921)rotate(90)">42.2</text></g>
<g id="B5b2"><use href="#s" class="B" x="36" y="925"/><text class="l" transform="translate(20,927)rotate(90)">B5b2</text><text class="v" transform="translate(30,926)rotate(90)">17.4</text></g>
<g id="B6b"><use href="#t" class="B" x="71" y="935"/><text class="l" transform="translate(67,927)rotate(90)">B6b</text><text class="v" transform="translate(77,942)rotate(90)">26.8</text></g>
<g id="R9b"><use href="#s" class="B" x="42" y="935"/><text class="l" transform="translate(30,936)rotate(90)">R9b</text><text class="v" transform="translate(48,929)rotate(90)">21.2</text></g>
<g id="F1e"><use href="#s" class="B" x="43" y="946"/><text class="l" transform="translate(29,946)rotate(90)">F1e</text><text class="v" transform="translate(50,941)rotate(90)">22.5</text></g>
<g id="j13"><use href="#t" class="B" x="54" y="950"/><text class="v" transform="translate(58,947)rotate(90)">26.5</text></g>
<g id="F1c"><use href="#s" class="B" x="36" y="956"/><text class="l" transform="translate(25,958)rotate(90)">F1c</text><text class="v" transform="translate(42,961)rotate(90)">17.2</text></g>
<g id="F1"><use href="#s" class="B" x="62" y="962"/><text class="l" transform="translate(70,956)rotate(90)">F1</text><text class="v" transform="translate(69,970)rotate(90)">30.5</text></g>
<g id="R9"><use href="#s" class="B" x="85" y="958"/><text class="l" transform="translate(90,946)rotate(90)">R9</text><text class="v" transform="translate(92,968)rotate(90)">47.2</text></g>
<g id="F1b"><use href="#s" class="B" x="33" y="967"/><text class="l" transform="translate(23,966)rotate(90)">F1b</text><text class="v" transform="translate(40,971)rotate(90)">15.6</text></g>
<g id="F1d"><use href="#s" class="B" x="18" y="977"/><text class="l" transform="translate(5,979)rotate(90)">F1d</text><text class="v" transform="translate(12,974)rotate(90)">9.3</text></g>
<g id="F"><use href="#s" class="B" x="78" y="978"/><text class="l" transform="translate(87,983)rotate(90)">F</text><text class="v" transform="translate(85,990)rotate(90)">40.4</text></g>
<g id="F2"><use href="#s" class="B" x="36" y="986"/><text class="l" transform="translate(25,988)rotate(90)">F2</text><text class="v" transform="translate(44,990)rotate(90)">17.2</text></g>
<g id="F4"><use href="#s" class="B" x="66" y="994"/><text class="l" transform="translate(56,993)rotate(90)">F4</text><text class="v" transform="translate(61,1001)rotate(90)">35.8</text></g>
<g id="R11"><use href="#s" class="B" x="42" y="1003"/><text class="l" transform="translate(32,1004)rotate(90)">R11</text><text class="v" transform="translate(50,1006)rotate(90)">21.8</text></g>
<g id="j14"><use href="#t" class="B" x="87" y="1003"/><text class="v" transform="translate(91,1011)rotate(90)">48.4</text></g>
</g>
<g id="nodes-right">
<g id="L"><circle class="G" cx="486" cy="66" r="6"/><text class="l" transform="translate(493,60)rotate(90)">L</text><text class="v" transform="translate(492,77)rotate(90)">192.4</text><text class="m" transform="translate(480,66)rotate(90)">Mitochondrial</text><text class="m" transform="translate(471,66)rotate(90)">Eve</text></g>
<g id="L0"><circle class="G" cx="416" cy="32" r="6"/><text class="l" transform="translate(407,32)rotate(90)">L0</text><text class="v" transform="translate(424,39)rotate(90)">149.7</text></g>
<g id="j21"><circle class="G" cx="397" cy="32" r="2.2"/><text class="v" transform="translate(401,40)rotate(90)">138.1</text></g>
<g id="j22"><circle class="G" cx="349" cy="38" r="2.2"/><text class="v" transform="translate(356,42)rotate(90)">108.0</text></g>
<g id="L0k"><circle class="G" cx="191" cy="24" r="6"/><text class="l" transform="translate(183,25)rotate(90)">L0k</text><text class="v" transform="translate(199,30)rotate(90)">11.2</text></g>
<g id="L0a1"><circle class="G" cx="217" cy="32" r="6"/><text class="l" transform="translate(208,32)rotate(90)">L0a1</text><text class="v" transform="translate(225,35)rotate(90)">26.3</text></g>
<g id="L0a2"><circle class="G" cx="214" cy="43" r="6"/><text class="l" transform="translate(206,44)rotate(90)">L0a2</text><text class="v" transform="translate(222,47)rotate(90)">25.4</text></g>
<g id="L0a"><circle class="G" cx="245" cy="38" r="6"/><text class="l" transform="translate(265,44)rotate(90)">L0a</text><text class="v" transform="translate(253,42)rotate(90)">44.8</text></g>
<g id="L1c"><circle class="G" cx="311" cy="47" r="6"/><text class="l" transform="translate(301,47)rotate(90)">L1c</text><text class="v" transform="translate(321,51)rotate(90)">85.1</text></g>
<g id="L1"><circle class="G" cx="401" cy="53" r="6"/><text class="l" transform="translate(392,53)rotate(90)">L1</text><text class="v" transform="translate(409,57)rotate(90)">140.6</text></g>
<g id="L1b"><circle class="G" cx="188" cy="58" r="6"/><text class="l" transform="translate(180,58)rotate(90)">L1b</text><text class="v" transform="translate(197,55)rotate(90)">9.7</text></g>
<g id="L5"><circle class="G" cx="367" cy="66" r="6"/><text class="l" transform="translate(358,66)rotate(90)">L5</text><text class="v" transform="translate(375,72)rotate(90)">120.2</text></g>
<g id="L2a1"><circle class="G" cx="208" cy="75" r="6"/><text class="l" transform="translate(200,72)rotate(90)">L2a1</text><text class="v" transform="translate(216,78)rotate(90)">21.5</text></g>
<g id="L2a"><circle class="G" cx="252" cy="75" r="6"/><text class="l" transform="translate(243,67)rotate(90)">L2a</text><text class="v" transform="translate(260,79)rotate(90)">46.3</text></g>
<g id="L2"><circle class="G" cx="317" cy="82" r="6"/><text class="l" transform="translate(308,82)rotate(90)">L2</text><text class="v" transform="translate(325,88)rotate(90)">88.3</text></g>
<g id="L2b"><circle class="G" cx="197" cy="84" r="6"/><text class="l" transform="translate(185,88)rotate(90)">L2b</text><text class="v" transform="translate(204,88)rotate(90)">14.2</text></g>
<g id="j23"><circle class="G" cx="273" cy="89" r="2.2"/><text class="v" transform="translate(277,95)rotate(90)">61.8</text></g>
<g id="L2c"><circle class="G" cx="215" cy="95" r="6"/><text class="l" transform="translate(206,95)rotate(90)">L2c</text><text class="v" transform="translate(225,98)rotate(90)">25.2</text></g>
<g id="L3b"><circle class="G" cx="201" cy="106" r="6"/><text class="l" transform="translate(192,108)rotate(90)">L3b</text><text class="v" transform="translate(210,109)rotate(90)">15.9</text></g>
<g id="j24"><circle class="G" cx="277" cy="106" r="2.2"/><circle class="G" cx="279" cy="111" r="2.2"/><text class="v" transform="translate(283,118)rotate(90)">64.1</text></g>
<g id="L3d"><circle class="G" cx="223" cy="116" r="6"/><text class="l" transform="translate(214,117)rotate(90)">L3d</text><text class="v" transform="translate(232,120)rotate(90)">36.0</text></g>
<g id="L3e"><circle class="G" cx="237" cy="126" r="6"/><text class="l" transform="translate(228,125)rotate(90)">L3e</text><text class="v" transform="translate(246,129)rotate(90)">37.8</text></g>
<g id="L3h"><circle class="G" cx="283" cy="129" r="6"/><text class="l" transform="translate(268,127)rotate(90)">L3h</text><text class="v" transform="translate(275,128)rotate(90)">62.7</text></g>
<g id="L3i"><circle class="G" cx="229" cy="137" r="6"/><text class="l" transform="translate(220,137)rotate(90)">L3i</text><text class="v" transform="translate(238,140)rotate(90)">34.8</text></g>
<g id="j25"><circle class="G" cx="260" cy="137" r="2.2"/><text class="v" transform="translate(265,143)rotate(90)">53.4</text></g>
<g id="L3x"><circle class="G" cx="232" cy="148" r="6"/><text class="l" transform="translate(223,148)rotate(90)">L3x</text><text class="v" transform="translate(241,151)rotate(90)">36.1</text></g>
<g id="L3f"><circle class="G" cx="259" cy="156" r="6"/><text class="l" transform="translate(251,155)rotate(90)">L3f</text><text class="v" transform="translate(267,160)rotate(90)">53.1</text></g>
<g id="M_b"><use href="#s" class="B" x="271" y="181"/><text class="l" transform="translate(279,172)rotate(90)">M</text><text class="v" transform="translate(279,186)rotate(90)">60.6</text></g>
<g id="L3"><circle class="G" cx="289" cy="357" r="6"/><text class="l" transform="translate(297,347)rotate(90)">L3</text><text class="v" transform="translate(293,367)rotate(90)">71.6</text></g>
<g id="j26"><circle class="G" cx="314" cy="357" r="2.2"/><text class="v" transform="translate(320,364)rotate(90)">86.1</text></g>
<g id="j27"><circle class="G" cx="344" cy="357" r="2.2"/><text class="v" transform="translate(350,366)rotate(90)">105.3</text></g>
<g id="j28"><circle class="G" cx="360" cy="221" r="2.2"/><text class="v" transform="translate(364,231)rotate(90)">114.7</text></g>
<g id="j29"><circle class="G" cx="416" cy="144" r="2.2"/><text class="v" transform="translate(421,153)rotate(90)">149.3</text></g>
<g id="j30"><circle class="G" cx="445" cy="99" r="2.2"/><text class="v" transform="translate(449,109)rotate(90)">166.8</text></g>
<g id="j31"><circle class="G" cx="288" cy="580" r="2.2"/><text class="v" transform="translate(291,590)rotate(90)">71.5</text></g>
<g id="M1a"><circle class="Y" cx="207" cy="188" r="6"/><text class="l" transform="translate(193,185)rotate(90)">M1a</text><text class="v" transform="translate(199,189)rotate(90)">27.0</text></g>
<g id="M1b"><circle class="Y" cx="207" cy="202" r="6"/><text class="l" transform="translate(193,200)rotate(90)">M1b</text><text class="v" transform="translate(199,203)rotate(90)">20.9</text></g>
<g id="M1"><circle class="Y" cx="214" cy="194" r="6"/><text class="l" transform="translate(224,187)rotate(90)">M1</text><text class="v" transform="translate(221,203)rotate(90)">25.4</text></g>
<g id="D1"><use href="#s" class="U" x="195" y="212"/><text class="l" transform="translate(182,211)rotate(90)">D1</text><text class="v" transform="translate(189,219)rotate(90)">13.4</text></g>
<g id="D4a1"><use href="#s" class="B" x="183" y="222"/><text class="l" transform="translate(172,224)rotate(90)">D4a1</text></g>
<g id="D4a2"><use href="#s" class="B" x="189" y="232"/><text class="l" transform="translate(178,236)rotate(90)">D4a2</text><text class="v" transform="translate(184,229)rotate(90)">11.5</text></g>
<g id="D4a"><use href="#s" class="B" x="197" y="239"/><text class="l" transform="translate(207,233)rotate(90)">D4a</text><text class="v" transform="translate(205,247)rotate(90)">15.5</text></g>
<g id="D4a3"><use href="#s" class="B" x="193" y="248"/><text class="l" transform="translate(181,250)rotate(90)">D4a3</text><text class="v" transform="translate(187,246)rotate(90)">13.0</text></g>
<g id="D4a4"><use href="#s" class="B" x="191" y="259"/><text class="l" transform="translate(173,257)rotate(90)">D4a4</text><text class="v" transform="translate(185,262)rotate(90)">12.3</text></g>
<g id="D4b1"><use href="#s" class="B" x="204" y="270"/><text class="l" transform="translate(190,268)rotate(90)">D4b1</text><text class="v" transform="translate(198,265)rotate(90)">18.6</text></g>
<g id="D4b"><use href="#s" class="B" x="214" y="275"/><text class="l" transform="translate(213,262)rotate(90)">D4b</text><text class="v" transform="translate(221,287)rotate(90)">25.8</text></g>
<g id="D4b2"><use href="#s" class="B" x="202" y="280"/><text class="l" transform="translate(186,281)rotate(90)">D4b2</text><text class="v" transform="translate(196,285)rotate(90)">15.4</text></g>
<g id="D4c1"><use href="#s" class="B" x="203" y="291"/><text class="l" transform="translate(187,291)rotate(90)">D4c1</text><text class="v" transform="translate(197,294)rotate(90)">16.6</text></g>
<g id="D4c"><use href="#s" class="B" x="209" y="298"/><text class="l" transform="translate(196,300)rotate(90)">D4c</text></g>
<g id="D4c2"><use href="#s" class="B" x="176" y="304"/><text class="l" transform="translate(168,308)rotate(90)">D4c2</text><text class="v" transform="translate(182,298)rotate(90)">2.1</text></g>
<g id="D4d"><use href="#s" class="B" x="203" y="312"/><text class="l" transform="translate(188,312)rotate(90)">D4d</text><text class="v" transform="translate(197,315)rotate(90)">18.5</text></g>
<g id="n21"><use href="#s" class="B" x="209" y="320"/><text class="v" transform="translate(216,310)rotate(90)">22.3</text></g>
<g id="D4"><use href="#s" class="B" x="217" y="330"/><text class="l" transform="translate(223,324)rotate(90)">D4</text><text class="v" transform="translate(224,340)rotate(90)">27.0</text></g>
<g id="D4e"><use href="#s" class="B" x="180" y="326"/><text class="l" transform="translate(160,325)rotate(90)">D4e</text><text class="v" transform="translate(173,324)rotate(90)">4.9</text></g>
<g id="D4f"><use href="#s" class="B" x="178" y="338"/><text class="l" transform="translate(166,338)rotate(90)">D4f</text></g>
<g id="D4g"><use href="#s" class="B" x="180" y="348"/><text class="l" transform="translate(158,355)rotate(90)">D4g</text><text class="v" transform="translate(173,348)rotate(90)">3.7</text></g>
<g id="n22"><use href="#s" class="B" x="213" y="355"/><text class="v" transform="translate(221,358)rotate(90)">25.3</text></g>
<g id="n23"><use href="#s" class="B" x="207" y="361"/></g>
<g id="D4h"><use href="#s" class="B" x="202" y="372"/><text class="l" transform="translate(191,368)rotate(90)">D4h</text><text class="v" transform="translate(196,377)rotate(90)">21.1</text></g>
<g id="D4i"><use href="#s" class="B" x="200" y="382"/><text class="l" transform="translate(184,380)rotate(90)">D4i</text><text class="v" transform="translate(193,385)rotate(90)">18.1</text></g>
<g id="D4j"><use href="#s" class="B" x="196" y="392"/><text class="l" transform="translate(179,391)rotate(90)">D4j</text><text class="v" transform="translate(189,394)rotate(90)">17.8</text></g>
<g id="D4k"><use href="#s" class="B" x="183" y="402"/><text class="l" transform="translate(170,402)rotate(90)">D4k</text><text class="v" transform="translate(177,405)rotate(90)">14.7</text></g>
<g id="D4l"><use href="#s" class="B" x="186" y="412"/><text class="l" transform="translate(173,412)rotate(90)">D4l</text><text class="v" transform="translate(193,415)rotate(90)">7.8</text></g>
<g id="D4m"><use href="#s" class="B" x="180" y="423"/><text class="l" transform="translate(163,422)rotate(90)">D4m</text><text class="v" transform="translate(175,427)rotate(90)">3.6</text></g>
<g id="D4n"><use href="#s" class="B" x="185" y="433"/><text class="l" transform="translate(170,432)rotate(90)">D4n</text><text class="v" transform="translate(192,437)rotate(90)">7.4</text></g>
<g id="D4o"><use href="#s" class="B" x="200" y="443"/><text class="l" transform="translate(191,443)rotate(90)">D4o</text><text class="v" transform="translate(208,446)rotate(90)">21.3</text></g>
<g id="D"><use href="#s" class="B" x="254" y="418"/><text class="l" transform="translate(261,409)rotate(90)">D</text><text class="v" transform="translate(260,430)rotate(90)">48.3</text></g>
<g id="D5a1"><use href="#s" class="B" x="185" y="453"/><text class="l" transform="translate(170,452)rotate(90)">D5a1</text><text class="v" transform="translate(178,456)rotate(90)">7.6</text></g>
<g id="D5a2"><use href="#s" class="B" x="191" y="464"/><text class="l" transform="translate(176,467)rotate(90)">D5a2</text><text class="v" transform="translate(184,469)rotate(90)">11.5</text></g>
<g id="D5a"><use href="#s" class="B" x="211" y="459"/><text class="l" transform="translate(220,451)rotate(90)">D5a</text><text class="v" transform="translate(219,465)rotate(90)">23.8</text></g>
<g id="j32"><use href="#t" class="B" x="228" y="467"/><text class="v" transform="translate(229,457)rotate(90)">34.9</text></g>
<g id="D5b"><use href="#s" class="B" x="207" y="474"/><text class="l" transform="translate(198,476)rotate(90)">D5b</text><text class="v" transform="translate(217,478)rotate(90)">21.7</text></g>
<g id="D5"><use href="#s" class="B" x="236" y="477"/><text class="l" transform="translate(245,467)rotate(90)">D5</text><text class="v" transform="translate(244,486)rotate(90)">38.3</text></g>
<g id="D5c"><use href="#s" class="B" x="180" y="485"/><text class="l" transform="translate(168,485)rotate(90)">D5c</text><text class="v" transform="translate(188,479)rotate(90)">5.1</text></g>
<g id="D6"><use href="#s" class="B" x="220" y="494"/><text class="l" transform="translate(210,492)rotate(90)">D6</text><text class="v" transform="translate(228,501)rotate(90)">29.3</text></g>
<g id="M7a1"><use href="#s" class="B" x="202" y="503"/><text class="l" transform="translate(185,502)rotate(90)">M7a1</text><text class="v" transform="translate(195,504)rotate(90)">10.9</text></g>
<g id="M7a"><use href="#s" class="B" x="217" y="511"/><text class="l" transform="translate(233,516)rotate(90)">M7a</text><text class="v" transform="translate(225,518)rotate(90)">27.5</text></g>
<g id="M7a2"><use href="#s" class="B" x="207" y="518"/><text class="l" transform="translate(188,518)rotate(90)">M7a2</text><text class="v" transform="translate(200,514)rotate(90)">21.2</text></g>
<g id="M7"><use href="#s" class="B" x="262" y="530"/><text class="l" transform="translate(267,517)rotate(90)">M7</text><text class="v" transform="translate(269,543)rotate(90)">54.8</text></g>
<g id="j33"><use href="#t" class="B" x="254" y="547"/><text class="v" transform="translate(258,554)rotate(90)">50.2</text></g>
<g id="j34"><use href="#t" class="B" x="205" y="527"/></g>
<g id="M7b2"><use href="#s" class="B" x="182" y="527"/><text class="l" transform="translate(169,530)rotate(90)">M7b2</text><text class="v" transform="translate(187,535)rotate(90)">9.4</text></g>
<g id="M7b"><use href="#s" class="B" x="219" y="534"/><text class="l" transform="translate(237,537)rotate(90)">M7b</text><text class="v" transform="translate(228,541)rotate(90)">28.7</text></g>
<g id="M7b1"><use href="#s" class="B" x="192" y="540"/><text class="l" transform="translate(177,541)rotate(90)">M7b1</text><text class="v" transform="translate(186,546)rotate(90)">13.4</text></g>
<g id="M7c1"><use href="#s" class="B" x="206" y="549"/><text class="l" transform="translate(187,553)rotate(90)">M7c1</text><text class="v" transform="translate(200,551)rotate(90)">20.3</text></g>
<g id="M7c"><use href="#s" class="B" x="212" y="559"/><text class="l" transform="translate(220,548)rotate(90)">M7c</text><text class="v" transform="translate(219,563)rotate(90)">24.0</text></g>
<g id="M7c3"><use href="#s" class="B" x="198" y="567"/><text class="l" transform="translate(186,566)rotate(90)">M7c3</text><text class="v" transform="translate(205,570)rotate(90)">11.6</text></g>
<g id="M8a1"><use href="#s" class="B" x="178" y="577"/><text class="l" transform="translate(168,575)rotate(90)">M8a1</text><text class="v" transform="translate(178,568)rotate(90)">2.3</text></g>
<g id="M8a"><use href="#s" class="B" x="214" y="582"/><text class="l" transform="translate(227,576)rotate(90)">M8a</text><text class="v" transform="translate(222,589)rotate(90)">23.9</text></g>
<g id="M8a2"><use href="#s" class="B" x="202" y="588"/><text class="l" transform="translate(184,590)rotate(90)">M8a2</text><text class="v" transform="translate(209,593)rotate(90)">18.3</text></g>
<g id="C1a"><use href="#s" class="U" x="195" y="598"/><text class="l" transform="translate(182,598)rotate(90)">C1a</text><text class="v" transform="translate(188,593)rotate(90)">13.0</text></g>
<g id="C1c"><use href="#s" class="U" x="187" y="608"/><text class="l" transform="translate(173,608)rotate(90)">C1c</text><text class="v" transform="translate(181,611)rotate(90)">9.8</text></g>
<g id="C1"><use href="#s" class="B" x="200" y="608"/><text class="l" transform="translate(208,604)rotate(90)">C1</text><text class="v" transform="translate(207,617)rotate(90)">17.1</text></g>
<g id="C1b"><use href="#s" class="U" x="195" y="619"/><text class="l" transform="translate(199,627)rotate(90)">C1b</text><text class="v" transform="translate(188,620)rotate(90)">14.5</text></g>
<g id="C"><use href="#s" class="B" x="218" y="619"/><text class="l" transform="translate(224,609)rotate(90)">C</text><text class="v" transform="translate(227,626)rotate(90)">28.3</text></g>
<g id="j35"><use href="#t" class="B" x="213" y="621"/><text class="v" transform="translate(209,633)rotate(90)">26.1</text></g>
<g id="C4"><use href="#s" class="B" x="200" y="630"/><text class="l" transform="translate(188,632)rotate(90)">C4</text></g>
<g id="M8"><use href="#s" class="B" x="242" y="619"/><text class="l" transform="translate(250,609)rotate(90)">M8</text><text class="v" transform="translate(249,626)rotate(90)">42.7</text></g>
<g id="Z1"><use href="#s" class="B" x="201" y="643"/><text class="l" transform="translate(193,642)rotate(90)">Z1</text><text class="v" transform="translate(208,640)rotate(90)">17.8</text></g>
<g id="Z3"><use href="#s" class="B" x="179" y="652"/><text class="l" transform="translate(169,652)rotate(90)">Z3</text><text class="v" transform="translate(178,644)rotate(90)">3.7</text></g>
<g id="Z"><use href="#s" class="B" x="213" y="651"/><text class="l" transform="translate(221,646)rotate(90)">Z</text><text class="v" transform="translate(221,658)rotate(90)">24.3</text></g>
<g id="Z4"><use href="#s" class="B" x="197" y="659"/><text class="l" transform="translate(189,661)rotate(90)">Z4</text><text class="v" transform="translate(205,666)rotate(90)">14.8</text></g>
<g id="E1a"><use href="#s" class="B" x="188" y="673"/><text class="l" transform="translate(173,673)rotate(90)">E1a</text><text class="v" transform="translate(181,669)rotate(90)">10.6</text></g>
<g id="E1"><use href="#s" class="B" x="194" y="683"/><text class="l" transform="translate(202,688)rotate(90)">E1</text><text class="v" transform="translate(201,678)rotate(90)">14.0</text></g>
<g id="E1b"><use href="#s" class="B" x="182" y="690"/><text class="l" transform="translate(168,690)rotate(90)">E1b</text><text class="v" transform="translate(176,687)rotate(90)">6.3</text></g>
<g id="E"><use href="#s" class="B" x="217" y="698"/><text class="l" transform="translate(227,692)rotate(90)">E</text><text class="v" transform="translate(226,706)rotate(90)">27.4</text></g>
<g id="E2a"><use href="#s" class="B" x="183" y="701"/><text class="l" transform="translate(172,703)rotate(90)">E2a</text><text class="v" transform="translate(177,697)rotate(90)">6.9</text></g>
<g id="E2"><use href="#s" class="B" x="189" y="711"/><text class="l" transform="translate(198,705)rotate(90)">E2</text><text class="v" transform="translate(197,718)rotate(90)">9.0</text></g>
<g id="E2b"><use href="#s" class="B" x="183" y="721"/><text class="l" transform="translate(170,720)rotate(90)">E2b</text><text class="v" transform="translate(177,717)rotate(90)">6.9</text></g>
<g id="j36"><use href="#t" class="B" x="248" y="722"/><text class="v" transform="translate(252,715)rotate(90)">46.9</text></g>
<g id="M9"><use href="#s" class="B" x="260" y="722"/><text class="l" transform="translate(266,709)rotate(90)">M9</text><text class="v" transform="translate(266,729)rotate(90)">53.4</text></g>
<g id="M9a1"><use href="#s" class="B" x="179" y="732"/><text class="l" transform="translate(166,730)rotate(90)">M9a1</text><text class="v" transform="translate(173,734)rotate(90)">4.8</text></g>
<g id="M9a2"><use href="#s" class="B" x="179" y="742"/><text class="l" transform="translate(163,743)rotate(90)">M9a2</text><text class="v" transform="translate(172,744)rotate(90)">4.1</text></g>
<g id="M9a"><use href="#s" class="B" x="198" y="742"/><text class="l" transform="translate(207,732)rotate(90)">M9a</text><text class="v" transform="translate(207,746)rotate(90)">15.4</text></g>
<g id="j37"><use href="#t" class="B" x="227" y="743"/><text class="v" transform="translate(232,739)rotate(90)">33.4</text></g>
<g id="M9a3"><use href="#s" class="B" x="182" y="753"/><text class="l" transform="translate(176,759)rotate(90)">M9a3</text><text class="v" transform="translate(188,748)rotate(90)">6.1</text></g>
<g id="M10"><use href="#s" class="B" x="217" y="757"/><text class="l" transform="translate(203,759)rotate(90)">M10</text><text class="v" transform="translate(227,761)rotate(90)">27.2</text></g>
<g id="M11"><use href="#s" class="B" x="208" y="768"/><text class="l" transform="translate(200,768)rotate(90)">M11</text><text class="v" transform="translate(218,772)rotate(90)">22.2</text></g>
<g id="G1"><use href="#s" class="B" x="208" y="778"/><text class="l" transform="translate(201,781)rotate(90)">G1</text><text class="v" transform="translate(217,782)rotate(90)">22.2</text></g>
<g id="G2"><use href="#s" class="B" x="221" y="791"/><text class="l" transform="translate(206,790)rotate(90)">G2</text><text class="v" transform="translate(214,788)rotate(90)">30.8</text></g>
<g id="G"><use href="#s" class="B" x="230" y="797"/><text class="l" transform="translate(238,789)rotate(90)">G</text><text class="v" transform="translate(237,804)rotate(90)">35.7</text></g>
<g id="G2a"><use href="#s" class="B" x="206" y="803"/><text class="l" transform="translate(192,802)rotate(90)">G2a</text><text class="v" transform="translate(200,808)rotate(90)">20.9</text></g>
<g id="G3"><use href="#s" class="B" x="219" y="808"/><text class="l" transform="translate(227,816)rotate(90)">G3</text><text class="v" transform="translate(226,808)rotate(90)">29.2</text></g>
<g id="G3a"><use href="#s" class="B" x="197" y="814"/><text class="l" transform="translate(184,812)rotate(90)">G3a</text><text class="v" transform="translate(190,817)rotate(90)">14.8</text></g>
<g id="M13"><use href="#s" class="B" x="193" y="825"/><text class="l" transform="translate(184,828)rotate(90)">M13</text><text class="v" transform="translate(200,828)rotate(90)">12.4</text></g>
<g id="j38"><use href="#t" class="B" x="265" y="797"/><text class="v" transform="translate(268,804)rotate(90)">56.7</text></g>
<g id="M_p"><use href="#s" class="P" x="255" y="839"/><text class="l" transform="translate(265,840)rotate(90)">M</text><text class="v" transform="translate(266,851)rotate(90)">49.4</text></g>
<g id="M2a"><use href="#s" class="P" x="206" y="842"/><text class="l" transform="translate(199,849)rotate(90)">M2a</text><text class="v" transform="translate(213,836)rotate(90)">20.3</text></g>
<g id="M2"><use href="#s" class="P" x="234" y="847"/><text class="l" transform="translate(227,853)rotate(90)">M2</text><text class="v" transform="translate(242,838)rotate(90)">37.6</text></g>
<g id="M2b"><use href="#s" class="P" x="193" y="853"/><text class="l" transform="translate(185,857)rotate(90)">M2b</text><text class="v" transform="translate(202,859)rotate(90)">12.8</text></g>
<g id="M3"><use href="#s" class="P" x="230" y="861"/><text class="l" transform="translate(222,862)rotate(90)">M3</text><text class="v" transform="translate(238,864)rotate(90)">33.5</text></g>
<g id="M4"><use href="#s" class="P" x="232" y="872"/><text class="l" transform="translate(224,874)rotate(90)">M4</text><text class="v" transform="translate(240,873)rotate(90)">31.5</text></g>
<g id="M18"><use href="#s" class="P" x="209" y="880"/><text class="l" transform="translate(200,880)rotate(90)">M18</text><text class="v" transform="translate(217,882)rotate(90)">22.2</text></g>
<g id="j39"><circle class="P" cx="239" cy="889" r="2.2"/><text class="v" transform="translate(244,896)rotate(90)">40.5</text></g>
<g id="M38"><use href="#s" class="P" x="200" y="889"/><text class="l" transform="translate(187,888)rotate(90)">M38</text><text class="v" transform="translate(193,894)rotate(90)">10.8</text></g>
<g id="M30"><use href="#s" class="P" x="209" y="899"/><text class="l" transform="translate(200,903)rotate(90)">M30</text><text class="v" transform="translate(216,899)rotate(90)">27.3</text></g>
<g id="M37"><use href="#s" class="P" x="229" y="908"/><text class="l" transform="translate(220,910)rotate(90)">M37</text><text class="v" transform="translate(236,908)rotate(90)">31.7</text></g>
<g id="M5a"><use href="#s" class="P" x="208" y="919"/><text class="l" transform="translate(200,921)rotate(90)">M5a</text><text class="v" transform="translate(215,921)rotate(90)">21.6</text></g>
<g id="M5"><use href="#s" class="P" x="237" y="919"/><text class="l" transform="translate(245,912)rotate(90)">M5</text><text class="v" transform="translate(245,922)rotate(90)">39.6</text></g>
<g id="M6"><use href="#s" class="P" x="207" y="929"/><text class="l" transform="translate(199,931)rotate(90)">M6</text><text class="v" transform="translate(215,933)rotate(90)">21.3</text></g>
<g id="M41"><use href="#s" class="P" x="183" y="938"/><text class="l" transform="translate(175,938)rotate(90)">M41</text><text class="v" transform="translate(191,943)rotate(90)">6.4</text></g>
<g id="M33"><use href="#s" class="P" x="245" y="947"/><text class="l" transform="translate(237,949)rotate(90)">M33</text><text class="v" transform="translate(252,948)rotate(90)">41.5</text></g>
<g id="M34"><use href="#s" class="P" x="222" y="956"/><text class="l" transform="translate(213,959)rotate(90)">M34</text><text class="v" transform="translate(230,957)rotate(90)">29.6</text></g>
<g id="M35"><use href="#s" class="P" x="238" y="967"/><text class="l" transform="translate(230,965)rotate(90)">M35</text><text class="v" transform="translate(246,968)rotate(90)">36.6</text></g>
<g id="M36"><use href="#s" class="P" x="232" y="978"/><text class="l" transform="translate(223,977)rotate(90)">M36</text><text class="v" transform="translate(240,981)rotate(90)">30.5</text></g>
<g id="M39"><use href="#s" class="P" x="226" y="988"/><text class="l" transform="translate(217,986)rotate(90)">M39</text><text class="v" transform="translate(234,992)rotate(90)">32.3</text></g>
<g id="M40"><use href="#s" class="P" x="227" y="999"/><text class="l" transform="translate(217,1000)rotate(90)">M40</text><text class="v" transform="translate(237,1004)rotate(90)">30.5</text></g>
<g id="N_end"><text class="l" transform="translate(260,1010)rotate(90)">N</text></g>
</g>
<g id="legend">
<rect x="361" y="557" width="121" height="279" fill="#fff" stroke="#8a8a8a" stroke-width="1.5"/>
<circle class="G" cx="466" cy="570" r="4.5"/><text class="g" transform="translate(467,579)rotate(90)">Sub-Saharan Africa</text>
<circle class="Y" cx="450" cy="612" r="4.5"/><text class="g" transform="translate(449,621)rotate(90)">North Africa</text>
<circle class="R" cx="431" cy="654" r="4.5"/><text class="g" transform="translate(430,663)rotate(90)">Near East/Europe</text>
<rect class="P" x="407.5" y="688.5" width="9" height="9"/><text class="g" transform="translate(411,702)rotate(90)">South Asia</text>
<rect class="B" x="388.5" y="731.5" width="9" height="9"/><text class="g" transform="translate(392,745)rotate(90)">East Asia</text>
<rect class="U" x="370.5" y="770.5" width="9" height="9"/><text class="g" transform="translate(374,787)rotate(90)">Americas</text>
</g>
</svg>
